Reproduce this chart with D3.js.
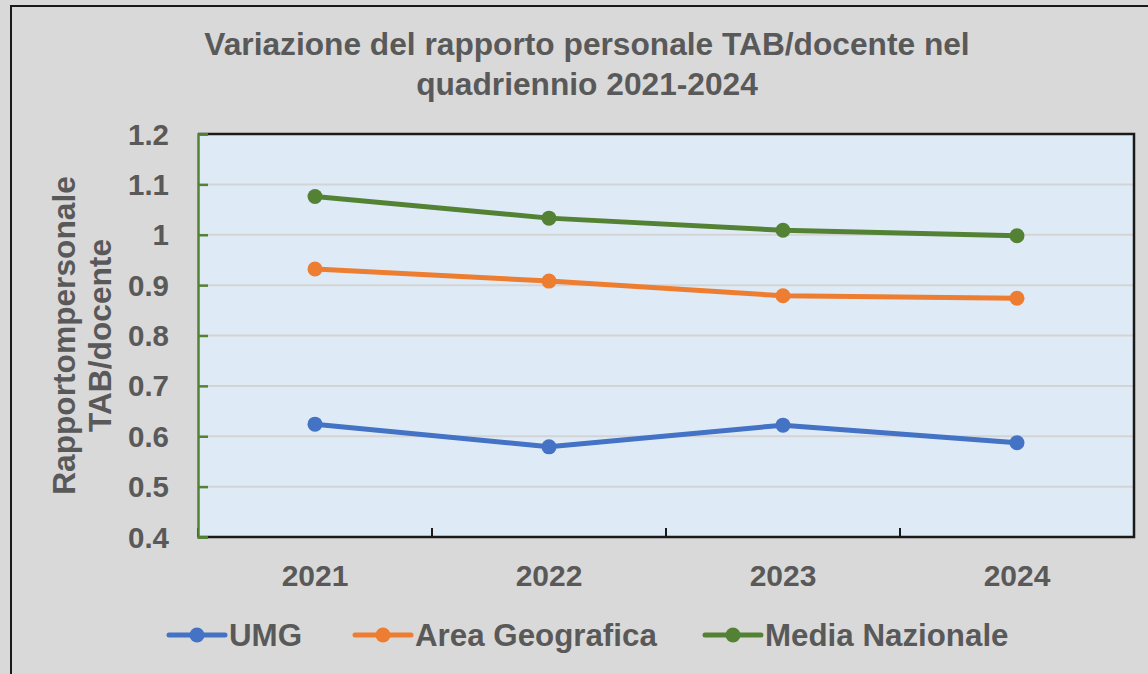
<!DOCTYPE html>
<html>
<head>
<meta charset="utf-8">
<script src="https://cdn.jsdelivr.net/npm/d3@7"></script>
<style>
  html, body { margin: 0; padding: 0; background: #d9d9d9; }
  svg { display: block; }
  text { font-family: "Liberation Sans", Arial, sans-serif; font-weight: bold; fill: #595959; }
</style>
</head>
<body>
<svg id="chart" width="1148" height="674"></svg>
<script>
const years = ["2021", "2022", "2023", "2024"];
const umg = [0.624, 0.579, 0.622, 0.587];
const areaGeografica = [0.932, 0.908, 0.879, 0.874];
const mediaNazionale = [1.076, 1.033, 1.009, 0.998];
const yTicks = [0.4, 0.5, 0.6, 0.7, 0.8, 0.9, 1.0, 1.1, 1.2];
const seriesNames = ["UMG", "Area Geografica", "Media Nazionale"];
const seriesColors = ["#4472C4", "#ED7D31", "#548235"];
const titleLines = ["Variazione del rapporto personale TAB/docente nel", "quadriennio 2021-2024"];
const yTitleLines = ["Rapportompersonale", "TAB/docente"];

const series = [umg, areaGeografica, mediaNazionale].map((vals, i) => ({
  name: seriesNames[i], color: seriesColors[i], values: vals
}));

const svg = d3.select("#chart");
const W = 1148, H = 674;
const plot = { left: 198, top: 134, right: 1134, bottom: 537 };

svg.append("rect").attr("width", W).attr("height", H).attr("fill", "#d9d9d9");
// outer frame
svg.append("rect").attr("x", 11).attr("y", 6).attr("width", W + 20).attr("height", H + 20)
  .attr("fill", "#d9d9d9").attr("stroke", "#1a1a1a").attr("stroke-width", 2);

const x = d3.scaleBand().domain(years).range([plot.left, plot.right]).padding(0);
const y = d3.scaleLinear().domain([0.4, 1.2]).range([plot.bottom, plot.top]);

// plot background
svg.append("rect").attr("x", plot.left).attr("y", plot.top)
  .attr("width", plot.right - plot.left).attr("height", plot.bottom - plot.top)
  .attr("fill", "#deebf7");

// gridlines
svg.append("g").selectAll("line").data(yTicks.filter(t => t > 0.4 && t < 1.2)).join("line")
  .attr("x1", plot.left).attr("x2", plot.right)
  .attr("y1", d => y(d)).attr("y2", d => y(d))
  .attr("stroke", "#d4d4d4").attr("stroke-width", 2);

// plot border (top, right, bottom)
svg.append("path")
  .attr("d", `M${plot.left},${plot.top}H${plot.right}V${plot.bottom}H${plot.left}`)
  .attr("fill", "none").attr("stroke", "#1a1a1a").attr("stroke-width", 2.5);

// x axis ticks (inward, at band boundaries)
const xBounds = years.map(d => x(d)).concat([plot.right]);
svg.append("g").selectAll("line").data(xBounds).join("line")
  .attr("x1", d => d).attr("x2", d => d)
  .attr("y1", plot.bottom).attr("y2", plot.bottom - 9)
  .attr("stroke", "#1a1a1a").attr("stroke-width", 2);

// y axis (green) with inward ticks
const yAxis = d3.axisRight(y).tickValues(yTicks).tickSize(10).tickFormat("");
const yg = svg.append("g").attr("transform", `translate(${plot.left},0)`).call(yAxis);
yg.select(".domain").attr("stroke", "#548235").attr("stroke-width", 2.5);
yg.selectAll(".tick line").attr("stroke", "#548235").attr("stroke-width", 2.5);

// y tick labels
svg.append("g").selectAll("text").data(yTicks).join("text")
  .attr("x", 169).attr("y", d => y(d) + 10.5)
  .attr("text-anchor", "end").attr("font-size", 29.5)
  .text(d => d3.format("~g")(+d.toFixed(1)));

// x labels
svg.append("g").selectAll("text").data(years).join("text")
  .attr("x", d => x(d) + x.bandwidth() / 2).attr("y", 586)
  .attr("text-anchor", "middle").attr("font-size", 30)
  .text(d => d);

// lines
const line = d3.line().x((d, i) => x(years[i]) + x.bandwidth() / 2).y(d => y(d));
const sg = svg.append("g").selectAll("g").data(series).join("g");
sg.append("path").attr("d", d => line(d.values))
  .attr("fill", "none").attr("stroke", d => d.color).attr("stroke-width", 5)
  .attr("stroke-linejoin", "round");
sg.each(function(s) {
  d3.select(this).selectAll("circle").data(s.values).join("circle")
    .attr("cx", (d, i) => x(years[i]) + x.bandwidth() / 2)
    .attr("cy", d => y(d)).attr("r", 7.5).attr("fill", s.color);
});

// title
svg.append("g").selectAll("text").data(titleLines).join("text")
  .attr("x", 587).attr("y", (d, i) => 55 + i * 40)
  .attr("text-anchor", "middle").attr("font-size", 31.7)
  .text(d => d);

// y axis title
svg.append("g").selectAll("text").data(yTitleLines).join("text")
  .attr("transform", (d, i) => `translate(${75 + i * 36},${(plot.top + plot.bottom) / 2}) rotate(-90)`)
  .attr("text-anchor", "middle").attr("font-size", 31.7)
  .text(d => d);

// legend
const legendX = [169, 355, 705];
const lg = svg.append("g").selectAll("g").data(series).join("g")
  .attr("transform", (d, i) => `translate(${legendX[i]},635)`);
lg.append("line").attr("x1", 0).attr("x2", 56).attr("y1", 0).attr("y2", 0)
  .attr("stroke", d => d.color).attr("stroke-width", 5).attr("stroke-linecap", "round");
lg.append("circle").attr("cx", 28).attr("cy", 0).attr("r", 7.5).attr("fill", d => d.color);
lg.append("text").attr("x", 60).attr("y", 10.5).attr("font-size", 31.3).text(d => d.name);
</script>
</body>
</html>
